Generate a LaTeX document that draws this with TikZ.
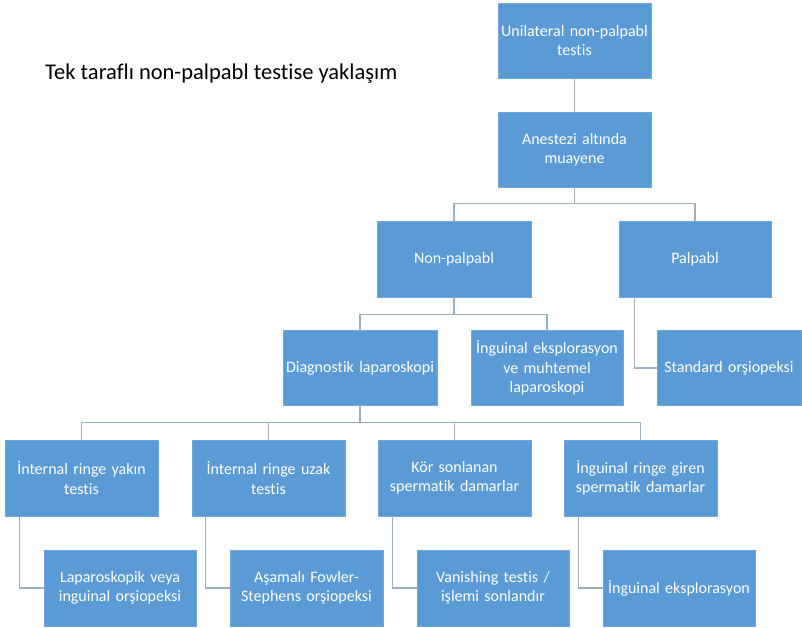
\documentclass[tikz,border=0pt]{standalone}
\usepackage{fontspec}
\setmainfont[Ligatures=NoCommon]{Carlito}
\definecolor{boxblue}{HTML}{5B9BD5}
\definecolor{boxedge}{HTML}{6FA8DC}
\definecolor{conn}{HTML}{9DAFC2}
\begin{document}
\begin{tikzpicture}[x=1bp,y=-1bp,
  box/.style={rectangle,fill=boxblue,draw=boxedge,line width=0.6bp,text=white,
    align=center,inner sep=1bp,minimum height=75bp,
    font=\fontsize{16bp}{19.3bp}\selectfont},
  conline/.style={draw=conn,line width=1.3bp}]
\useasboundingbox[fill=white] (0,0) rectangle (802,628);
\node[anchor=west,inner sep=0pt,font=\fontsize{22.5bp}{26bp}\selectfont] (title) at (45,74) {Tek taraflı non-palpabl testise yaklaşım};
\node[box,minimum width=153bp,text width=151bp] (top) at (574.5,40.5) {Unilateral non-palpabl\\testis};
\node[box,minimum width=153bp,text width=151bp] (anes) at (574.5,149.5) {Anestezi altında\\muayene};
\node[box,minimum width=154bp,text width=152bp,minimum height=76bp] (nonp) at (454,259) {Non-palpabl};
\node[box,minimum width=152bp,text width=150bp,minimum height=76bp] (palp) at (695,259) {Palpabl};
\node[box,minimum width=154bp,text width=152bp] (diag) at (360,368) {Diagnostik laparoskopi};
\node[box,minimum width=152bp,text width=150bp] (ingu) at (547,368) {İnguinal eksplorasyon\\ve muhtemel\\laparoskopi};
\node[box,minimum width=144bp,text width=142bp] (std) at (729,368) {Standard orşiopeksi};
\node[box,minimum width=153bp,text width=151bp,minimum height=76bp] (b1) at (81.5,478) {İnternal ringe yakın\\testis};
\node[box,minimum width=153bp,text width=151bp,minimum height=76bp] (b2) at (268.5,478) {İnternal ringe uzak\\testis};
\node[box,minimum width=153bp,text width=151bp,minimum height=76bp] (b3) at (454.5,478) {Kör sonlanan\\spermatik damarlar};
\node[box,minimum width=153bp,text width=151bp,minimum height=76bp] (b4) at (640.5,478) {İnguinal ringe giren\\spermatik damarlar};
\node[box,minimum width=152bp,text width=150bp,minimum height=76bp] (c1) at (120,588) {Laparoskopik veya\\inguinal orşiopeksi};
\node[box,minimum width=153bp,text width=151bp,minimum height=76bp] (c2) at (306.5,588) {Aşamalı Fowler-\\Stephens orşiopeksi};
\node[box,minimum width=152bp,text width=150bp,minimum height=76bp] (c3) at (493,588) {Vanishing testis /\\işlemi sonlandır};
\node[box,minimum width=152bp,text width=150bp,minimum height=76bp] (c4) at (679,588) {İnguinal eksplorasyon};
\draw[conline] (top.south) -- (anes.north);
\draw[conline] (anes.south) -- ++(0,16.5) -| (nonp.north);
\draw[conline] (anes.south) -- ++(0,16.5) -| (palp.north);
\draw[conline] (nonp.south) -- ++(0,17) -| (diag.north);
\draw[conline] (nonp.south) -- ++(0,17) -| (ingu.north);
\draw[conline] ([xshift=16bp]palp.south west) |- (std.west);
\draw[conline] (diag.south) -- ++(0,17) -| (b1.north);
\draw[conline] (diag.south) -- ++(0,17) -| (b2.north);
\draw[conline] (diag.south) -- ++(0,17) -| (b3.north);
\draw[conline] (diag.south) -- ++(0,17) -| (b4.north);
\draw[conline] ([xshift=15bp]b1.south west) |- (c1.west);
\draw[conline] ([xshift=14bp]b2.south west) |- (c2.west);
\draw[conline] ([xshift=15bp]b3.south west) |- (c3.west);
\draw[conline] ([xshift=15bp]b4.south west) |- (c4.west);
\end{tikzpicture}
\end{document}
